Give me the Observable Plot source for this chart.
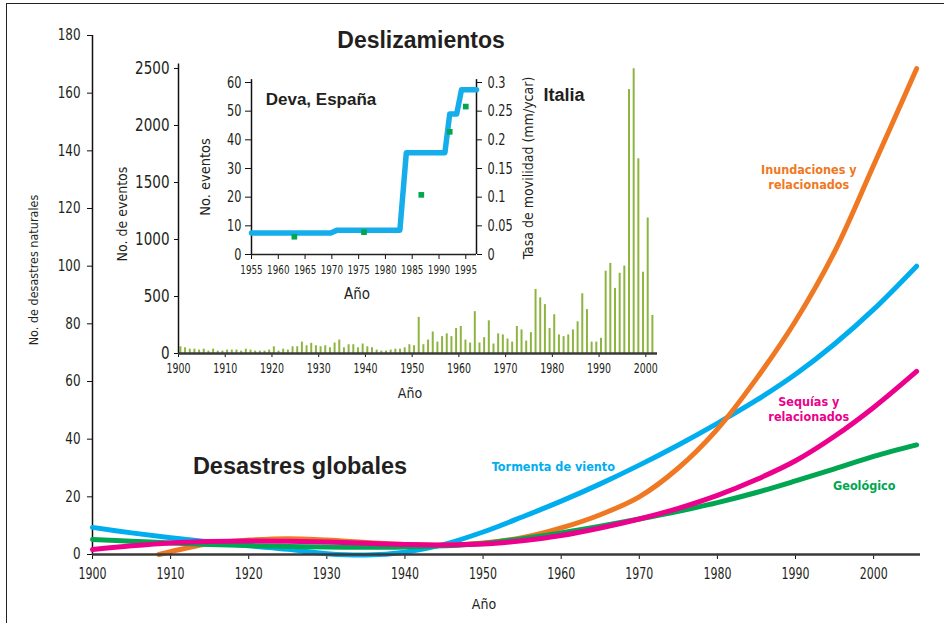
<!DOCTYPE html>
<html>
<head>
<meta charset="utf-8">
<script src="https://cdn.jsdelivr.net/npm/d3@7"></script>
<script src="https://cdn.jsdelivr.net/npm/@observablehq/plot@0.6"></script>
<style>
  body { margin: 0; background: #fff; }
  #wrap { position: relative; width: 944px; height: 623px; overflow: hidden; background: #fff;
          font-family: "Liberation Sans Narrow", "DejaVu Sans", sans-serif; font-stretch: condensed; color: #231f20; }
  #wrap svg { position: absolute; background: transparent; font-stretch: condensed; }
  .frame { position: absolute; left: 6px; top: 3px; right: -2px; bottom: -2px;
           border-left: 1.5px solid #222; border-top: 1.5px solid #222; }
  .ttl { position: absolute; font-family: "Liberation Sans", Arial, sans-serif; font-weight: bold; font-stretch: normal;
         white-space: nowrap; transform: translate(-50%, -50%); color: #231f20; }
  .lab { position: absolute; white-space: nowrap; transform: translate(-50%, -50%); color: #231f20; }
  .rot { transform: translate(-50%, -50%) rotate(-90deg); }
</style>
</head>
<body>
<div id="wrap"><div class="frame"></div></div>
<script>
// ---------- Main chart: Desastres globales ----------
const mainXTicks = [1900, 1910, 1920, 1930, 1940, 1950, 1960, 1970, 1980, 1990, 2000];
const mainYTicks = [0, 20, 40, 60, 80, 100, 120, 140, 160, 180];

const years = [1900, 1905, 1910, 1915, 1920, 1925, 1930, 1935, 1940, 1945, 1950, 1955, 1960, 1965, 1970, 1975, 1980, 1985, 1990, 1995, 2000, 2005.5];
const tormenta = [9.4, 7.5, 5.8, 4.3, 3.0, 1.8, 0.3, -0.2, 0.8, 3.5, 7.8, 13, 18.5, 24.5, 31, 38, 45.5, 53.5, 62.5, 73, 85, 100];
const geologico = [5.2, 4.6, 4.0, 3.5, 3.1, 2.8, 2.6, 2.5, 2.6, 3.0, 3.8, 5.5, 7.5, 9.8, 12.3, 15, 18, 21.5, 25.5, 29.7, 34, 38];
const sequias = [1.7, 3.0, 4.0, 4.5, 4.7, 4.6, 4.3, 3.9, 3.5, 3.3, 3.6, 4.8, 6.6, 9.2, 12.3, 16, 20.5, 26, 32.5, 41, 51, 63.5];

const floodYears = [1908.5, 1915, 1920, 1925, 1930, 1935, 1940, 1945, 1950, 1955, 1960, 1965, 1970, 1975, 1980, 1985, 1990, 1995, 2000, 2005.5];
const inundaciones = [0, 3.8, 5.0, 5.5, 5.0, 4.2, 3.5, 3.2, 4.0, 5.8, 9.2, 13.8, 20, 30, 43.5, 61, 81, 105, 135, 168.5];

// ---------- Inset: Deslizamientos, Italia ----------
const italyYTicks = [0, 500, 1000, 1500, 2000, 2500];
const italyXTicks = [1900, 1910, 1920, 1930, 1940, 1950, 1960, 1970, 1980, 1990, 2000];
const italyYears = d3.range(1900, 2002);
const italyEvents = [
  59, 50, 38, 38, 30, 38, 21, 38, 21, 21,
  30, 30, 30, 21, 38, 30, 21, 21, 21, 30,
  59, 21, 38, 30, 59, 59, 100, 68, 89, 68,
  59, 68, 50, 92, 118, 50, 77, 77, 50, 83,
  59, 50, 30, 21, 21, 30, 38, 38, 50, 77,
  68, 317, 77, 118, 189, 100, 148, 172, 148, 219,
  237, 118, 92, 367, 92, 139, 287, 83, 172, 163,
  127, 100, 237, 207, 109, 183, 562, 488, 429, 219,
  340, 163, 148, 163, 207, 278, 524, 385, 100, 100,
  133, 722, 790, 571, 704, 767, 2315, 2498, 1708, 713,
  1189, 334
];

// ---------- Inset in inset: Deva, España ----------
const devaXTicks = [1955, 1960, 1965, 1970, 1975, 1980, 1985, 1990, 1995];
const devaYTicks = [0, 10, 20, 30, 40, 50, 60];
const devaRateTicks = [0, 0.05, 0.1, 0.15, 0.2, 0.25, 0.3];
const devaStepYears = [1955, 1969.8, 1971, 1982.7, 1983.9, 1991.1, 1992, 1993.3, 1994.2, 1997];
const devaEvents = [7.5, 7.5, 8.5, 8.5, 35.5, 35.5, 49, 49, 57.5, 57.5];
const devaRateYears = [1963, 1976, 1986.7, 1992, 1995];
const devaRates = [0.031, 0.039, 0.104, 0.214, 0.258];

// ---------- colours / fonts ----------
const F = '"Liberation Sans Narrow", "DejaVu Sans", sans-serif';
const C = { flood: "#f07822", storm: "#00aeef", drought: "#ec008c", geo: "#00a651", bar: "#8db43e", ink: "#231f20" };

const series = (xs, ys, name) => xs.map((x, i) => ({ year: x, value: ys[i], name }));
const stormData = series(years, tormenta, "Tormenta de viento");
const geoData = series(years, geologico, "Geológico");
const droughtData = series(years, sequias, "Sequías y relacionados");
const floodData = series(floodYears, inundaciones, "Inundaciones y relacionados");

const wrap = document.getElementById("wrap");

// squeeze tick labels horizontally to a target width per digit (condensed look)
function condense(svg, label, digitW) {
  svg.querySelectorAll(`g[aria-label="${label}"] text`).forEach(t => {
    const s = t.textContent;
    let n = 0;
    for (const ch of s) n += (ch === "." || ch === ",") ? 0.5 : 1;
    const target = n * digitW;
    const cur = t.getComputedTextLength();
    if (cur > target) {
      t.setAttribute("textLength", target);
      t.setAttribute("lengthAdjust", "spacingAndGlyphs");
    }
  });
}

// Main plot
const main = Plot.plot({
  width: 944, height: 623,
  marginLeft: 92, marginRight: 24, marginTop: 35, marginBottom: 69,
  x: { domain: [1900, 2006] },
  y: { domain: [0, 180] },
  style: { fontFamily: F, background: "transparent", color: C.ink },
  marks: [
    Plot.axisY({ ticks: mainYTicks, tickSize: 5, tickPadding: 7, fontSize: 15, label: null, stroke: "#111" }),
    Plot.axisX({ ticks: mainXTicks, tickFormat: "d", tickSize: 5, tickPadding: 9, fontSize: 15, label: null, stroke: "#111" }),
    Plot.ruleX([1900], { y1: 0, y2: 180, stroke: "#111", strokeWidth: 1.5 }),
    Plot.line(stormData, { x: "year", y: "value", stroke: C.storm, strokeWidth: 5, curve: "catmull-rom", strokeLinecap: "round" }),
    Plot.line(floodData, { x: "year", y: "value", stroke: C.flood, strokeWidth: 5, curve: "catmull-rom", strokeLinecap: "round" }),
    Plot.line(geoData, { x: "year", y: "value", stroke: C.geo, strokeWidth: 5, curve: "catmull-rom", strokeLinecap: "round" }),
    Plot.line(droughtData, { x: "year", y: "value", stroke: C.drought, strokeWidth: 5, curve: "catmull-rom", strokeLinecap: "round" }),
    Plot.ruleY([0], { stroke: "#3a3a3a", strokeWidth: 2.5 }),
    Plot.text(["Inundaciones y\nrelacionados"], { x: 1991.7, y: 131, fill: C.flood, fontWeight: "bold", fontSize: 12.5, lineHeight: 1.2 }),
    Plot.text(["Tormenta de viento"], { x: 1959, y: 30.2, fill: C.storm, fontWeight: "bold", fontSize: 12.5 }),
    Plot.text(["Sequías y\nrelacionados"], { x: 1991.7, y: 50.6, fill: C.drought, fontWeight: "bold", fontSize: 12.5, lineHeight: 1.2 }),
    Plot.text(["Geológico"], { x: 1998.8, y: 23.6, fill: C.geo, fontWeight: "bold", fontSize: 12.5 })
  ]
});
main.style.left = "0px"; main.style.top = "0px";
wrap.appendChild(main);
condense(main, "x-axis tick label", 7.0);
condense(main, "y-axis tick label", 7.6);

// Italia inset
const italyData = italyYears.map((y, i) => ({ year: y, v: italyEvents[i] }));
const italy = Plot.plot({
  width: 560, height: 360,
  marginLeft: 68, marginRight: 13, marginTop: 18, marginBottom: 57,
  x: { domain: [1900, 2002.5] },
  y: { domain: [0, 2500] },
  style: { fontFamily: F, background: "transparent", color: C.ink },
  marks: [
    Plot.rectY(italyData, { x: "year", y: "v", interval: 1, fill: C.bar, insetLeft: 1.4, insetRight: 1.3 }),
    Plot.axisY({ ticks: italyYTicks, tickFormat: "d", tickSize: 4, tickPadding: 5, fontSize: 17.5, label: null, stroke: "#111" }),
    Plot.axisX({ ticks: italyXTicks, tickFormat: "d", tickSize: 4, tickPadding: 6, fontSize: 13.5, label: null, stroke: "#111" }),
    Plot.ruleX([1900], { y1: 0, y2: 2540, stroke: "#111", strokeWidth: 1.5 }),
    Plot.ruleY([0], { stroke: "#3a3a3a", strokeWidth: 2.5 })
  ]
});
italy.style.left = "110px"; italy.style.top = "50px";
wrap.appendChild(italy);
condense(italy, "x-axis tick label", 6.0);
condense(italy, "y-axis tick label", 8.6);

// Deva inset
const devaLine = devaStepYears.map((y, i) => ({ year: y, n: devaEvents[i] }));
const devaDots = devaRateYears.map((y, i) => ({ year: y, rate: devaRates[i] }));
const rateToY = r => r * 200; // 0.3 ↔ 60
const deva = Plot.plot({
  width: 380, height: 240,
  marginLeft: 71, marginRight: 84, marginTop: 12, marginBottom: 56,
  x: { domain: [1955, 1997] },
  y: { domain: [0, 60] },
  style: { fontFamily: F, background: "transparent", color: C.ink },
  marks: [
    Plot.axisY({ ticks: devaYTicks, tickSize: 6, tickPadding: 4, fontSize: 16, label: null, stroke: "#111" }),
    Plot.axisY(devaRateTicks.map(rateToY), { anchor: "right", tickSize: 5, tickPadding: 6, fontSize: 16, label: null, stroke: "#111",
      tickFormat: d => String(+(d / 200).toFixed(2)) }),
    Plot.axisX({ ticks: devaXTicks, tickFormat: "d", tickSize: 5, tickPadding: 6, fontSize: 12.5, label: null, stroke: "#111" }),
    Plot.ruleX([1955], { y1: 0, y2: 61, stroke: "#111", strokeWidth: 1.5 }),
    Plot.ruleX([1997], { y1: 0, y2: 61, stroke: "#111", strokeWidth: 1.5 }),
    Plot.ruleY([0], { stroke: "#222", strokeWidth: 1.5 }),
    Plot.line(devaLine, { x: "year", y: "n", stroke: "#15aeea", strokeWidth: 5.5, strokeLinejoin: "round", strokeLinecap: "round" }),
    Plot.dot(devaDots, { x: "year", y: d => rateToY(d.rate), symbol: "square", r: 3.2, fill: C.geo, stroke: null })
  ]
});
deva.style.left = "180px"; deva.style.top = "70px";
wrap.appendChild(deva);
condense(deva, "x-axis tick label", 5.6);
condense(deva, "y-axis tick label", 7.2);

// HTML titles and axis labels
function addLabel(text, x, y, cls, css) {
  const d = document.createElement("div");
  d.className = cls;
  d.textContent = text;
  d.style.left = x + "px"; d.style.top = y + "px";
  Object.assign(d.style, css || {});
  wrap.appendChild(d);
}
addLabel("Deslizamientos", 421, 40, "ttl", { fontSize: "23px" });
addLabel("Italia", 564, 95, "ttl", { fontSize: "18px" });
addLabel("Deva, España", 321, 100, "ttl", { fontSize: "17px" });
addLabel("Desastres globales", 300, 466, "ttl", { fontSize: "23.5px" });
addLabel("No. de desastres naturales", 33, 270, "lab rot", { fontSize: "12.5px" });
addLabel("Año", 484, 604, "lab", { fontSize: "14px" });
addLabel("No. de eventos", 122, 214, "lab rot", { fontSize: "14px" });
addLabel("Año", 410, 393, "lab", { fontSize: "14px" });
addLabel("No. eventos", 205, 177, "lab rot", { fontSize: "14.5px" });
addLabel("Tasa de movilidad (mm/ycar)", 528, 168, "lab rot", { fontSize: "14px" });
addLabel("Año", 357, 294, "lab", { fontSize: "15px" });
</script>
</body>
</html>
